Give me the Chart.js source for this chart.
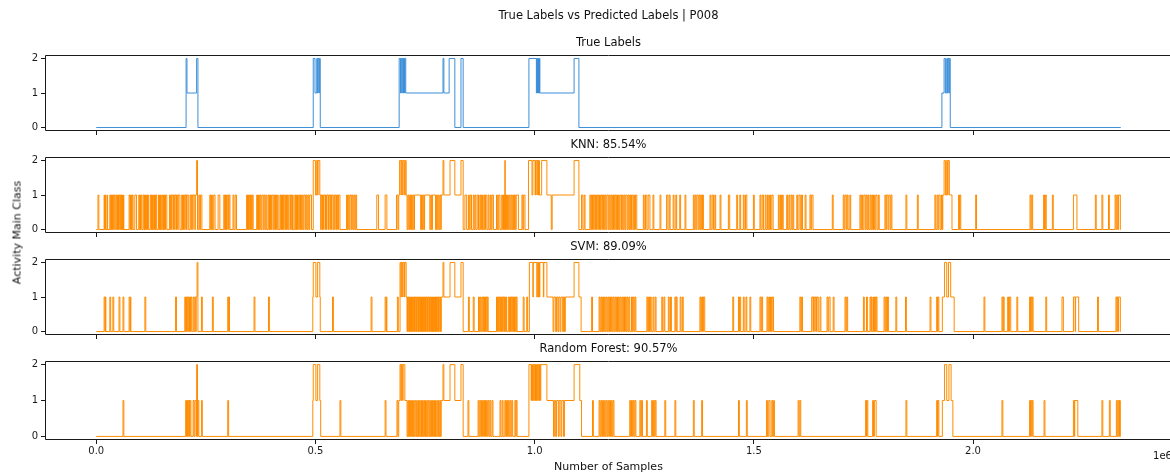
<!DOCTYPE html>
<html><head><meta charset="utf-8">
<script src="https://cdn.jsdelivr.net/npm/chart.js@4.4.1/dist/chart.umd.min.js"></script>
<style>
html,body{margin:0;padding:0;background:#fff;overflow:hidden;width:1170px;height:472px;}
#wrap{position:relative;width:1170px;height:472px;overflow:hidden;font-family:"DejaVu Sans",sans-serif;color:#111;}
canvas{position:absolute;left:0;}
.t{position:absolute;white-space:nowrap;line-height:1;font-weight:normal;}
</style></head><body><div id="wrap"></div>
<script>
// ---------- data (x in thousands of samples) ----------
const figTitle = 'True Labels vs Predicted Labels | P008';
const panelTitles = ['True Labels', 'KNN: 85.54%', 'SVM: 89.09%', 'Random Forest: 90.57%'];
const xLabel = 'Number of Samples';
const yLabel = 'Activity Main Class';
const xTickValues = [0, 500000, 1000000, 1500000, 2000000];
const yTickValues = [0, 1, 2];
const nSamplesK = 2337;

// segments: [startK, endK, value]; value defaults to 1, background is 0
const trueSegs = [
[205,207,2],[207,229,1],[229,232,2],
[495,499,2],[499,503,1],[503,505,2],[505,506,1],[506,508,2],[508,509,1],[509,511,2],
[691,694,2],[694,695,1],[695,697,2],[697,698,1],[698,700,2],[700,701,1],[701,703,2],[703,704,1],[704,706,2],[706,791,1],[791,793,2],[793,805,1],[805,818,2],
[832,837,2],
[987,1004,2],[1004,1005,1],[1005,1006,2],[1006,1007,1],[1007,1008,2],[1008,1009,1],[1009,1010,2],[1010,1011,1],[1011,1012,2],[1012,1090,1],[1090,1101,2],
[1929,1934,1],[1934,1937,2],[1937,1940,1],[1940,1942,2],[1942,1943,1],[1943,1945,2],[1945,1946,1],[1946,1948,2]
];

const knnSegs = [
[4,6],[18,19],[21,22],[25,26],
[31,33],[34,35],[36,37],[38,40],[41,43],
[45,47],[48,49],[50,51],[52,54],[55,57],[58,59],[60,61],[62,63],
[75,77],[78,79],[80,81],[82,84],[88,92],
[97,99],[100,101],[102,104],[107,109],[110,111],[112,113],[115,116],[117,119],
[123,125],[126,127],[128,129],[131,133],[134,135],[136,138],
[142,144],[145,146],[147,148],[150,152],[153,154],[155,156],[158,161],
[167,169],[170,172],[173,176],[177,179],[180,183],[184,186],[187,191],
[195,197],[198,199],[200,202],[203,206],[207,210],
[214,216],[217,220],[221,225],[226,229],[229,231,2],
[234,236],[238,241],
[259,261],[263,265],[268,271],[278,282],
[291,293],[294,295],[296,297],[299,302],[303,305],[312,314],[317,320],
[343,345],[346,347],[348,350],[352,354],[356,358],
[366,368],[369,370],[371,372],[374,376],[378,381],[383,385],[387,389],
[392,394],[395,396],[397,398],[400,403],[405,407],[409,411],[413,415],
[419,421],[422,423],[424,425],[427,430],[432,434],[436,438],[440,443],[445,447],[448,449],
[453,455],[456,457],[458,459],[461,464],[466,468],[470,472],[474,477],[479,481],[483,485],[487,491],
[495,500,2],[500,503,1],[503,505,2],[505,506,1],[506,510,2],[510,512,1],
[513,515],[516,518],[519,522],[523,525],[526,529],[530,533],[534,536],[537,540],[542,544],[545,548],[550,552],[553,556],
[571,573],[575,577],[579,582],[584,586],[588,590],[592,594],
[640,644],[659,663],[685,688],
[690,692,1],[692,695,2],[695,696,1],[696,699,2],[699,700,1],[700,703,2],[703,705,1],[705,707,2],
[707,709],[711,713],[715,717],[719,721],[723,725],[726,740],[742,744],[746,748],[749,761],[763,765],[767,774],[776,778],[780,782],[784,786],[787,791],
[791,793,2],[793,807,1],[807,818,2],[818,832,1],[832,837,2],
[841,845],[849,851],[853,856],[860,862],[864,866],[869,872],[875,877],[879,881],[884,886],[888,891],[894,896],[899,901],[903,906],
[913,915],[918,921],[925,927],[929,931],[932,933,2],[934,936],[938,940],[942,944],[946,948],[950,952],[954,956],[958,963],[971,973],[975,978],
[986,994,2],[994,996,1],[996,1001,2],[1001,1002,1],[1002,1005,2],[1005,1006,1],[1006,1008,2],[1008,1009,1],[1009,1011,2],[1011,1016,1],[1016,1028,2],[1028,1038,1],
[1040,1090,1],[1090,1101,2],
[1107,1110],[1113,1115],[1126,1128],[1130,1132],[1134,1137],[1139,1141],[1143,1146],[1148,1150],[1152,1155],[1157,1159],[1161,1163],[1165,1168],
[1170,1172],[1174,1176],[1178,1180],[1182,1185],[1187,1189],[1191,1193],[1195,1198],[1200,1202],[1204,1206],[1208,1211],[1213,1215],[1217,1219],
[1221,1224],[1226,1228],[1230,1233],
[1248,1250],[1253,1256],[1259,1263],[1270,1272],[1286,1288],[1301,1304],[1307,1309],[1316,1318],[1322,1324],[1331,1333],[1343,1345],
[1362,1364],[1366,1368],[1370,1373],[1375,1377],[1379,1381],[1383,1385],[1400,1402],[1405,1408],[1411,1413],[1423,1425],[1442,1445],
[1461,1463],[1468,1470],[1476,1478],[1481,1484],[1499,1501],[1514,1516],[1519,1522],[1526,1528],[1531,1533],[1536,1538],[1541,1544],
[1556,1558],[1561,1563],[1565,1567],[1575,1577],[1580,1582],[1585,1587],[1589,1591],[1598,1600],[1603,1606],
[1609,1611],[1617,1619],[1628,1630],[1632,1635],[1679,1681],[1704,1706],[1708,1711],[1713,1715],[1719,1721],
[1742,1744],[1746,1748],[1751,1754],[1756,1758],[1760,1762],[1765,1767],[1769,1771],[1773,1775],[1778,1781],[1784,1786],
[1799,1801],[1803,1806],[1808,1811],[1813,1815],[1847,1849],[1873,1875],
[1913,1915],[1918,1920],[1922,1925],[1928,1930],[1931,1934],[1934,1937,2],[1937,1940,1],[1940,1942,2],[1942,1943,1],[1943,1946,2],[1946,1952,1],
[1967,1969],[1970,1972],[2006,2008],[2130,2132],[2134,2136],[2161,2163],[2165,2167],[2181,2183],[2229,2237],
[2279,2281],[2294,2296],[2309,2311],[2324,2326],[2328,2330],[2332,2336]
];

const svmSegs = [
[18,20],[21,22],[31,33],[38,40],[52,54],[61,63],[75,77],[78,79],[111,113],[181,183],
[202,204],[205,206],[207,209],[210,212],[213,215],[216,218],[221,223],[225,227],[228,230],[230,232,2],
[240,242],[265,267],[300,302],[303,304],[360,362],[393,395],
[494,495,1],[495,501,2],[501,505,1],[505,510,2],[510,511,1],
[539,541],[627,629],[659,661],[662,663],[687,689],
[693,695,2],[695,696,1],[696,699,2],[699,700,1],[700,703,2],[703,704,1],[704,707,2],
[707,709],[710,711],[712,714],[715,716],[717,719],[720,721],[722,724],[725,726],[727,729],[730,731],[732,734],[735,736],
[737,739],[740,741],[742,744],[745,746],[747,749],[750,751],[752,754],[755,756],[757,759],[760,761],[762,764],[765,766],
[767,769],[770,771],[772,774],[775,776],[777,779],[780,781],[782,784],[785,786],[787,791],
[791,793,2],[793,807,1],[807,818,2],[818,832,1],[832,837,2],
[849,851],[860,862],[872,874],[876,878],[880,882],[883,885],[886,888],[889,891],[892,894],
[913,915],[916,918],[919,921],[922,924],[925,927],[928,930],[931,933],[934,936],[940,942],[943,945],[946,948],[949,951],[952,954],[955,957],[958,960],
[974,976],[982,984],
[988,996,2],[996,997,1],[997,1005,2],[1005,1006,1],[1006,1008,2],[1008,1009,1],[1009,1011,2],[1011,1012,1],[1012,1020,2],[1020,1021,1],[1021,1028,2],
[1028,1042,1],[1044,1048,1],[1050,1053,1],[1055,1058,1],[1060,1064,1],[1066,1068,1],[1070,1090,1],[1090,1101,2],[1101,1106,1],
[1130,1132],[1147,1149],[1151,1153],[1155,1157],[1159,1161],[1163,1165],[1167,1169],[1171,1173],[1175,1177],[1179,1181],[1183,1185],[1187,1189],
[1191,1193],[1195,1197],[1199,1201],[1203,1205],[1207,1209],[1211,1213],[1215,1217],[1221,1223],[1225,1227],[1229,1231],
[1256,1258],[1260,1262],[1264,1266],[1270,1272],[1275,1277],[1290,1292],[1295,1297],[1305,1307],[1310,1312],[1320,1322],[1323,1325],
[1332,1334],[1337,1339],[1377,1379],[1381,1383],[1385,1388],[1452,1454],[1465,1467],[1468,1470],[1476,1478],[1482,1484],[1491,1493],
[1514,1516],[1518,1520],[1530,1532],[1534,1536],[1538,1540],[1542,1545],
[1605,1607],[1609,1611],[1632,1635],[1636,1639],[1640,1643],[1644,1647],[1651,1653],[1667,1669],[1671,1674],[1681,1683],
[1708,1710],[1712,1714],[1750,1752],[1757,1759],[1765,1767],[1768,1770],[1773,1775],[1776,1778],[1779,1781],
[1797,1799],[1801,1803],[1805,1807],[1824,1826],[1846,1848],[1902,1904],[1917,1919],[1920,1922],
[1930,1935],[1935,1940,2],[1940,1944,1],[1944,1949,2],[1949,1957,1],
[2025,2027],[2066,2068],[2069,2071],[2079,2081],[2083,2086],[2100,2102],[2129,2131],[2132,2134],[2135,2137],[2166,2168],
[2203,2206],[2229,2233],[2234,2241],[2284,2286],[2326,2328],[2329,2331],[2332,2336]
];

const rfSegs = [
[61,63],[204,206],[207,208],[209,211],[212,213],[214,216],[221,223],[225,228],[229,231,2],[232,234],[240,242],[300,302],
[494,495,1],[495,501,2],[501,505,1],[505,510,2],[510,512,1],
[556,558],[659,661],[686,688],[690,693],
[693,695,2],[695,696,1],[696,699,2],[699,700,1],[700,704,2],
[704,709],[711,712],[714,715],[717,719],[721,722],[724,725],[727,729],[731,732],[734,735],[737,739],[741,742],[744,745],
[747,749],[751,752],[754,755],[757,759],[761,762],[764,765],[767,769],[771,772],[774,775],[777,779],[781,782],[784,785],[787,791],
[791,793,2],[793,807,1],[807,818,2],[818,832,1],[832,837,2],
[848,850],[871,873],[875,877],[879,881],[883,885],[886,888],[890,892],[894,896],[898,900],[903,905],
[921,923],[926,928],[932,934],[936,938],[940,942],[944,946],[948,950],[955,957],[958,960],
[987,992,2],[992,993,1],[993,995,2],[995,996,1],[996,998,2],[998,999,1],[999,1001,2],[1001,1002,1],[1002,1004,2],[1004,1005,1],
[1005,1007,2],[1007,1008,1],[1008,1010,2],[1010,1011,1],[1011,1013,2],[1013,1014,1],[1014,1028,2],
[1028,1043,1],[1045,1048,1],[1050,1054,1],[1056,1060,1],[1062,1066,1],[1068,1090,1],[1090,1103,2],[1103,1107,1],
[1132,1134],[1147,1149],[1151,1153],[1155,1157],[1159,1161],[1163,1165],[1167,1169],[1171,1173],[1175,1177],[1179,1181],
[1217,1219],[1221,1223],[1225,1227],[1229,1231],[1240,1242],[1244,1246],[1255,1257],[1267,1269],[1271,1273],[1275,1277],
[1297,1299],[1320,1322],[1362,1364],[1381,1383],[1465,1467],[1483,1485],[1529,1531],[1534,1537],[1541,1543],[1545,1547],
[1601,1603],[1605,1607],
[1755,1757],[1758,1760],[1771,1773],[1775,1779],[1847,1849],[1917,1919],[1920,1922],
[1930,1935],[1935,1940,2],[1940,1945,1],[1945,1950,2],[1950,1954,1],
[2066,2068],[2129,2131],[2132,2134],[2135,2137],[2162,2164],[2229,2231],[2232,2239],
[2294,2296],[2311,2313],[2327,2329],[2331,2333],[2334,2336]
];

const seriesSegs = [trueSegs, knnSegs, svmSegs, rfSegs];
const seriesColors = ['#3b8ed8', '#ff8c00', '#ff8c00', '#ff8c00'];

// ---------- layout ----------
const PANEL_TOPS = [50, 152, 254, 356];
const PANEL_H = 84;
const AX_LEFT = 45, AX_RIGHT = 1172, CANVAS_W = 1200;
const X_MIN = -116850, X_MAX = 2453850;
const FONT = '"DejaVu Sans", sans-serif';
const INK = '#1a1a1a';

function steps(segs) {
  const pts = [{x: 0, y: 0}];
  let last = 0;
  segs.forEach((s, i) => {
    let a = s[0], b = s[1];
    const v = s.length > 2 ? s[2] : 1;
    if (a < last) a = last;
    if (b <= a) return;
    pts.push({x: a * 1000, y: v});
    const next = segs[i + 1];
    if (!next || next[0] > b) pts.push({x: b * 1000, y: 0});
    last = b;
  });
  pts.push({x: nSamplesK * 1000, y: 0});
  return pts;
}

const spines = {
  id: 'spines',
  afterDraw(c) {
    const {ctx, chartArea: a} = c;
    const t = Math.round(a.top) + 0.5, b = Math.round(a.bottom) - 0.5;
    const l = Math.round(a.left) + 0.5, r = Math.round(a.right) - 0.5;
    ctx.save();
    ctx.strokeStyle = INK; ctx.lineWidth = 1;
    ctx.beginPath();
    ctx.moveTo(l, t); ctx.lineTo(r, t);
    ctx.moveTo(l, b); ctx.lineTo(r, b);
    ctx.moveTo(l, t); ctx.lineTo(l, b);
    ctx.moveTo(r, t); ctx.lineTo(r, b);
    ctx.stroke();
    ctx.restore();
  }
};

const wrap = document.getElementById('wrap');

function addText(txt, cx, baseline, size, align) {
  const d = document.createElement('div');
  d.className = 't';
  d.textContent = txt;
  d.style.fontSize = size + 'px';
  d.style.height = size + 'px';
  d.style.top = (baseline - 0.846 * size) + 'px';
  const w = 600;
  if (align === 'right') { d.style.left = (cx - w) + 'px'; d.style.textAlign = 'right'; }
  else { d.style.left = (cx - w / 2) + 'px'; d.style.textAlign = 'center'; }
  d.style.width = w + 'px';
  wrap.appendChild(d);
  return d;
}

seriesSegs.forEach((segs, i) => {
  const isLast = i === seriesSegs.length - 1;
  const xh = isLast ? 22 : 6;
  const padTop = 4;
  const cv = document.createElement('canvas');
  cv.width = CANVAS_W; cv.height = padTop + PANEL_H + xh;
  cv.style.width = CANVAS_W + 'px'; cv.style.height = cv.height + 'px';
  cv.style.top = (PANEL_TOPS[i] - padTop) + 'px';
  wrap.appendChild(cv);
  new Chart(cv, {
    type: 'line',
    data: {datasets: [{
      data: steps(segs), borderColor: seriesColors[i], borderWidth: 1,
      pointRadius: 0, stepped: true, fill: false, tension: 0
    }]},
    options: {
      animation: false, responsive: false, devicePixelRatio: 1, events: [],
      layout: {padding: {top: padTop, right: CANVAS_W - AX_RIGHT, left: 0, bottom: 0}},
      plugins: {legend: {display: false}, title: {display: false}, tooltip: {enabled: false}},
      scales: {
        x: {
          type: 'linear', min: X_MIN, max: X_MAX,
          afterBuildTicks: s => { s.ticks = xTickValues.map(v => ({value: v})); },
          afterFit: s => { s.height = xh; },
          ticks: {display: isLast, callback: v => (v / 1e6).toFixed(1), font: {family: FONT, size: 10},
                  color: INK, padding: 1, maxRotation: 0, minRotation: 0, autoSkip: false},
          grid: {display: true, drawOnChartArea: false, drawTicks: true, tickLength: 4, tickColor: INK, tickWidth: 1},
          border: {display: false}
        },
        y: {
          min: -0.1, max: 2.1,
          afterBuildTicks: s => { s.ticks = yTickValues.map(v => ({value: v})); },
          afterFit: s => { s.width = AX_LEFT; },
          ticks: {callback: v => String(v), font: {family: FONT, size: 10}, color: INK, padding: 3},
          grid: {display: true, drawOnChartArea: false, drawTicks: true, tickLength: 4, tickColor: INK, tickWidth: 1},
          border: {display: false}
        }
      }
    },
    plugins: [spines]
  });
  addText(panelTitles[i], (AX_LEFT + AX_RIGHT) / 2, PANEL_TOPS[i] - 3, 11.5);
});

addText(figTitle, (AX_LEFT + AX_RIGHT) / 2, 19.5, 11.5);
addText(xLabel, (AX_LEFT + AX_RIGHT) / 2, 470, 11);
addText('1e6', AX_RIGHT, 459, 10, 'right');

// rotated y label, box placed on whole pixels
const yl = document.createElement('div');
yl.className = 't';
yl.textContent = yLabel;
yl.style.fontSize = '11px';
yl.style.height = '11px';
yl.style.width = '200px';
yl.style.textAlign = 'center';
yl.style.left = (11 + 5.5 - 100) + 'px';
yl.style.top = (232 - 5.5) + 'px';
yl.style.transform = 'rotate(-90deg)';
yl.style.transformOrigin = '50% 50%';
wrap.appendChild(yl);
</script>
</body></html>
